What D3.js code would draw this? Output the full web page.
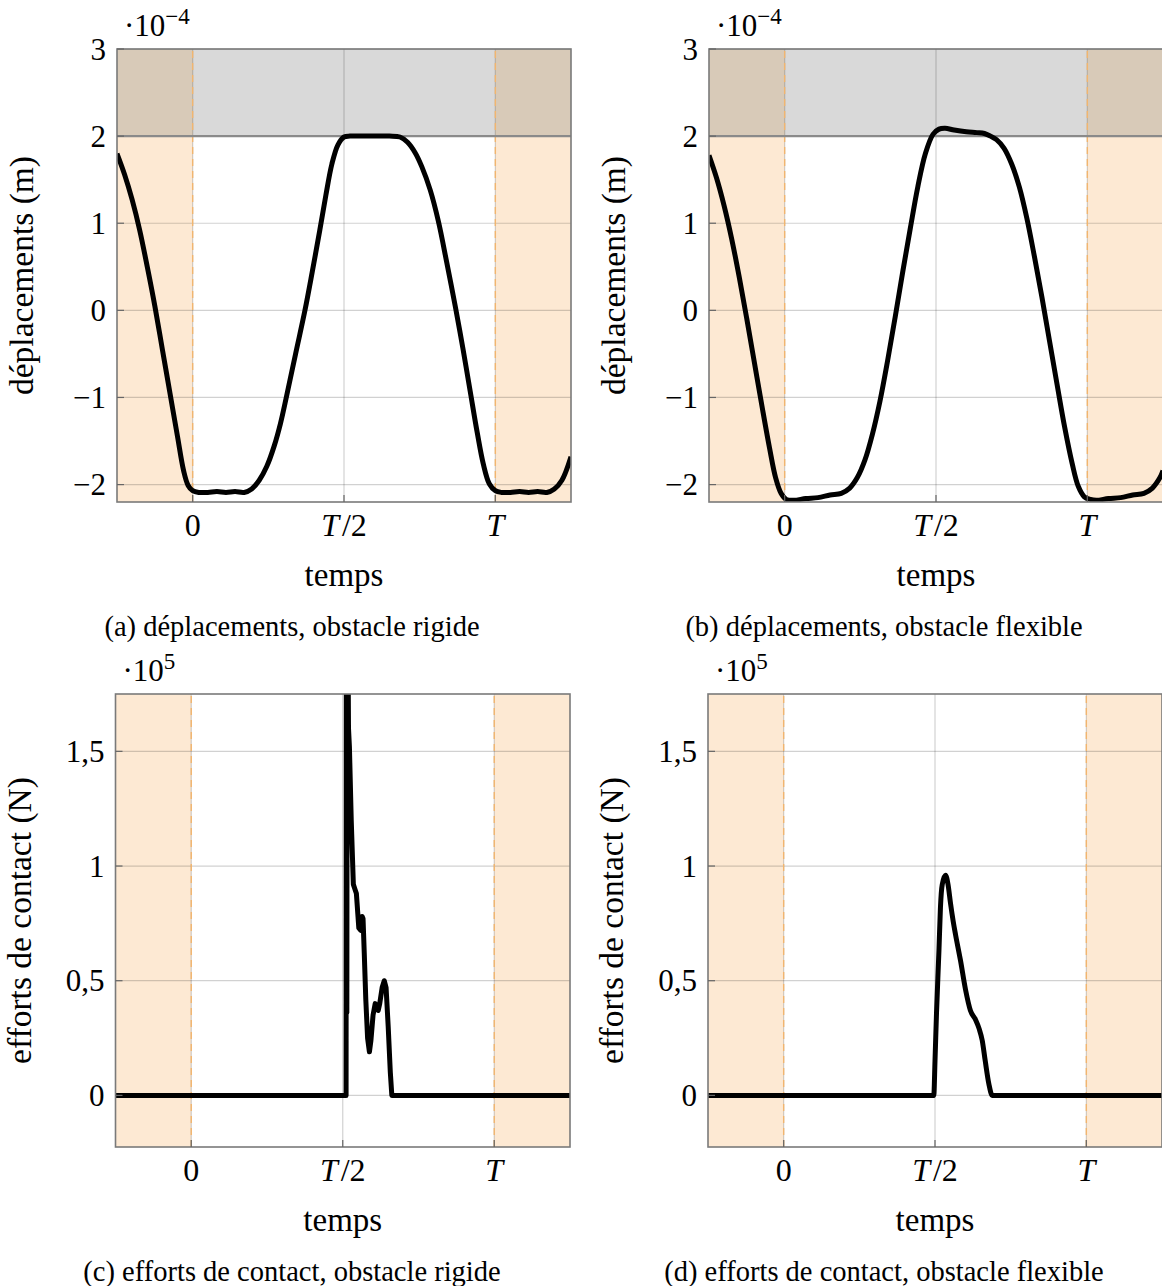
<!DOCTYPE html>
<html><head><meta charset="utf-8">
<script src="https://cdn.jsdelivr.net/npm/d3@7"></script>
<style>
body{margin:0;background:#fff}
svg{display:block}
text{font-family:"Liberation Serif","Times New Roman",serif;fill:#000}
</style>
</head><body>
<svg id="c" width="1162" height="1286"></svg>
<script>
// ---------- data (time in units of T) ----------
const xTicks = [0, 0.5, 1];
const xTickLabels = ["0", "T/2", "T"];
const dispYTicks = [-2, -1, 0, 1, 2, 3];
const dispYTickLabels = ["−2", "−1", "0", "1", "2", "3"];
const forceYTicks = [0, 0.5, 1, 1.5];
const forceYTickLabels = ["0", "0,5", "1", "1,5"];
const obstacleLevel = 2;      // ·10^-4 m
const captions = [
  "(a) déplacements, obstacle rigide",
  "(b) déplacements, obstacle flexible",
  "(c) efforts de contact, obstacle rigide",
  "(d) efforts de contact, obstacle flexible"
];

// displacement, rigid obstacle (·10^-4 m)
const dispRigid = [
  [-0.25,1.80],[-0.225,1.56],[-0.20,1.27],[-0.175,0.92],[-0.15,0.50],[-0.125,0.05],
  [-0.10,-0.45],[-0.075,-0.95],[-0.05,-1.45],[-0.03,-1.84],[-0.015,-2.01],[0.0,-2.07],
  [0.02,-2.09],[0.05,-2.09],[0.08,-2.08],[0.11,-2.09],[0.14,-2.08],[0.17,-2.09],
  [0.195,-2.05],[0.22,-1.95],[0.245,-1.79],[0.27,-1.55],[0.29,-1.30],[0.31,-0.99],
  [0.34,-0.50],[0.371,0.00],[0.395,0.44],[0.42,0.92],[0.44,1.32],[0.46,1.68],
  [0.48,1.90],[0.50,1.99],[0.52,2.00],[0.56,2.00],[0.60,2.00],[0.65,2.00],[0.685,1.99],
  [0.71,1.93],[0.735,1.81],[0.757,1.65],[0.785,1.38],[0.812,1.02],[0.84,0.54],
  [0.868,0.04],[0.893,-0.44],[0.917,-0.93],[0.94,-1.40],[0.96,-1.76],[0.98,-1.99],
  [1.00,-2.07],[1.02,-2.09],[1.05,-2.09],[1.08,-2.08],[1.11,-2.09],[1.14,-2.08],
  [1.17,-2.09],[1.195,-2.05],[1.22,-1.95],[1.25,-1.68]
];

// displacement, flexible obstacle (·10^-4 m)
const dispFlex = [
  [-0.25,1.78],[-0.225,1.52],[-0.20,1.20],[-0.175,0.82],[-0.15,0.38],[-0.125,-0.10],
  [-0.10,-0.60],[-0.075,-1.10],[-0.05,-1.58],[-0.03,-1.92],[-0.012,-2.10],[0.005,-2.17],
  [0.03,-2.18],[0.07,-2.16],[0.11,-2.15],[0.15,-2.12],[0.187,-2.10],[0.215,-2.04],
  [0.24,-1.92],[0.265,-1.72],[0.29,-1.42],[0.315,-1.04],[0.34,-0.58],[0.365,-0.08],
  [0.39,0.44],[0.415,0.94],[0.44,1.42],[0.465,1.80],[0.49,2.02],[0.51,2.08],
  [0.53,2.09],[0.56,2.07],[0.60,2.05],[0.635,2.04],[0.66,2.03],[0.68,2.00],
  [0.70,1.96],[0.725,1.86],[0.75,1.68],[0.775,1.42],[0.80,1.06],[0.825,0.62],
  [0.85,0.15],[0.875,-0.35],[0.90,-0.85],[0.925,-1.34],[0.95,-1.76],[0.97,-2.02],
  [0.99,-2.14],[1.01,-2.17],[1.03,-2.18],[1.07,-2.16],[1.11,-2.15],[1.15,-2.12],
  [1.187,-2.10],[1.215,-2.04],[1.24,-1.92],[1.25,-1.84]
];

// contact force, rigid obstacle (·10^5 N)
const forceRigid = [
  [-0.25,0],[0.511,0],[0.512,2.5],[0.5135,0.36],[0.515,2.5],[0.519,1.60],[0.522,1.52],
  [0.528,1.20],[0.535,0.92],[0.540,0.90],[0.545,0.88],[0.553,0.73],[0.559,0.72],
  [0.564,0.78],[0.567,0.77],[0.571,0.62],[0.576,0.42],[0.582,0.25],[0.588,0.19],
  [0.593,0.24],[0.600,0.35],[0.607,0.40],[0.612,0.39],[0.617,0.37],[0.622,0.40],
  [0.630,0.47],[0.637,0.50],[0.643,0.47],[0.650,0.30],[0.657,0.10],[0.662,0.0],[1.25,0]
];

// contact force, flexible obstacle (·10^5 N)
const forceFlex = [
  [-0.25,0],[0.496,0],[0.500,0.15],[0.505,0.36],[0.513,0.63],[0.518,0.82],[0.524,0.92],
  [0.535,0.96],[0.543,0.92],[0.551,0.84],[0.560,0.76],[0.568,0.70],[0.584,0.59],
  [0.601,0.46],[0.617,0.37],[0.634,0.33],[0.646,0.29],[0.656,0.24],[0.666,0.15],
  [0.678,0.05],[0.689,0],[1.25,0]
];

// ---------- layout ----------
const panels = [
  {left:117, top:49, w:454, h:453, ydom:[-2.2,3], yt:dispYTicks, ytl:dispYTickLabels, data:dispRigid, band:true, exp:"−4", capX:292, ylab:"déplacements (m)", ylabX:33, curve:d3.curveCatmullRom.alpha(0.5)},
  {left:709, top:49, w:454, h:453, ydom:[-2.2,3], yt:dispYTicks, ytl:dispYTickLabels, data:dispFlex, band:true, exp:"−4", capX:884, ylab:"déplacements (m)", ylabX:625, curve:d3.curveCatmullRom.alpha(0.5)},
  {left:115.5, top:694, w:454.5, h:453, ydom:[-0.225,1.75], yt:forceYTicks, ytl:forceYTickLabels, data:forceRigid, band:false, exp:"5", capX:292, ylab:"efforts de contact (N)", ylabX:31, curve:d3.curveLinear},
  {left:708, top:694, w:454, h:453, ydom:[-0.225,1.75], yt:forceYTicks, ytl:forceYTickLabels, data:forceFlex, band:false, exp:"5", capX:884, ylab:"efforts de contact (N)", ylabX:623, curve:d3.curveMonotoneX}
];

const svg = d3.select("#c");
const orange = "#fde9d3", gray = "#d9d9d9", mix = "#d8cab8";

panels.forEach((p, i) => {
  const x = d3.scaleLinear().domain([-0.25, 1.25]).range([p.left, p.left + p.w]);
  const y = d3.scaleLinear().domain(p.ydom).range([p.top + p.h, p.top]);
  const g = svg.append("g");
  const cid = "clip" + i;
  g.append("clipPath").attr("id", cid).append("rect")
    .attr("x", p.left).attr("y", p.top).attr("width", p.w).attr("height", p.h);
  const y0 = y(p.ydom[0]), y1 = y(p.ydom[1]);

  // orange zones outside [0,T]
  [[-0.25, 0], [1, 1.25]].forEach(([a, b]) => {
    g.append("rect").attr("x", x(a)).attr("y", y1).attr("width", x(b) - x(a)).attr("height", y0 - y1).attr("fill", orange);
  });
  if (p.band) {
    g.append("rect").attr("x", x(0)).attr("y", y1).attr("width", x(1) - x(0)).attr("height", y(obstacleLevel) - y1).attr("fill", gray);
    [[-0.25, 0], [1, 1.25]].forEach(([a, b]) => {
      g.append("rect").attr("x", x(a)).attr("y", y1).attr("width", x(b) - x(a)).attr("height", y(obstacleLevel) - y1).attr("fill", mix);
    });
  }
  // grid
  g.selectAll(".gx").data(xTicks).enter().append("line")
    .attr("x1", d => x(d)).attr("x2", d => x(d)).attr("y1", y0).attr("y2", y1)
    .attr("stroke", "rgba(0,0,0,0.18)").attr("stroke-width", 1.2);
  g.selectAll(".gy").data(p.yt).enter().append("line")
    .attr("x1", p.left).attr("x2", p.left + p.w).attr("y1", d => y(d)).attr("y2", d => y(d))
    .attr("stroke", "rgba(0,0,0,0.18)").attr("stroke-width", 1.2);
  // dashed boundaries of the period
  [0, 1].forEach(t => {
    g.append("line").attr("x1", x(t)).attr("x2", x(t)).attr("y1", y0).attr("y2", y1)
      .attr("stroke", "#f2b56e").attr("stroke-width", 1.4).attr("stroke-dasharray", "7 5");
  });
  if (p.band) {
    g.append("line").attr("x1", p.left).attr("x2", p.left + p.w)
      .attr("y1", y(obstacleLevel)).attr("y2", y(obstacleLevel))
      .attr("stroke", "#8a8a8a").attr("stroke-width", 2.2);
  }
  // curve
  const line = d3.line().x(d => x(d[0])).y(d => y(d[1])).curve(p.curve);
  g.append("path").datum(p.data).attr("d", line).attr("clip-path", `url(#${cid})`)
    .attr("fill", "none").attr("stroke", "#000").attr("stroke-width", 5).attr("stroke-linejoin", "round");
  // frame
  g.append("rect").attr("x", p.left).attr("y", p.top).attr("width", p.w).attr("height", p.h)
    .attr("fill", "none").attr("stroke", "#7a7a7a").attr("stroke-width", 1.6);
  // ticks
  g.selectAll(".tx").data(xTicks).enter().append("line")
    .attr("x1", d => x(d)).attr("x2", d => x(d)).attr("y1", y0).attr("y2", y0 - 7)
    .attr("stroke", "#666").attr("stroke-width", 1.2);
  g.selectAll(".ty").data(p.yt).enter().append("line")
    .attr("x1", p.left).attr("x2", p.left + 7).attr("y1", d => y(d)).attr("y2", d => y(d))
    .attr("stroke", "#666").attr("stroke-width", 1.2);
  // y tick labels
  p.yt.forEach((d, k) => {
    g.append("text").attr("x", p.left - 11).attr("y", y(d)).attr("dy", "0.34em")
      .attr("text-anchor", "end").attr("font-size", 31).text(p.ytl[k]);
  });
  // x tick labels
  xTicks.forEach((t, k) => {
    const tx = g.append("text").attr("x", x(t)).attr("y", y0 + 34).attr("text-anchor", "middle").attr("font-size", 32);
    const lab = xTickLabels[k];
    if (lab.startsWith("T")) {
      tx.append("tspan").attr("font-style", "italic").text("T");
      if (lab.length > 1) tx.append("tspan").attr("dx", 3).text(lab.slice(1));
    } else tx.text(lab);
  });
  // axis labels
  g.append("text").attr("x", x(0.5)).attr("y", y0 + 84).attr("text-anchor", "middle").attr("font-size", 33).text("temps");
  g.append("text").attr("transform", `translate(${p.ylabX},${(y0 + y1) / 2}) rotate(-90)`)
    .attr("text-anchor", "middle").attr("font-size", 33.5).text(p.ylab);
  // multiplier
  const m = g.append("text").attr("x", p.left + 7).attr("y", p.top - 13).attr("font-size", 31);
  m.append("tspan").text("·10");
  m.append("tspan").attr("font-size", 23).attr("dy", -12).text(p.exp);
  // caption
  g.append("text").attr("x", p.capX).attr("y", y0 + 134).attr("text-anchor", "middle").attr("font-size", 28.5).text(captions[i]);
});
</script>
</body></html>
